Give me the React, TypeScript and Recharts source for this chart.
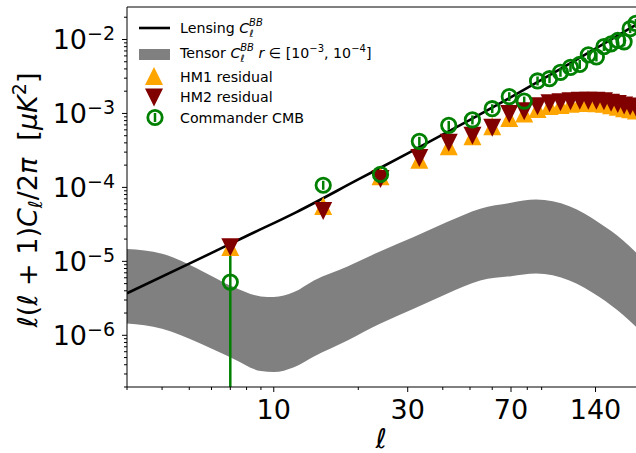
import React from 'react';
import {
  ComposedChart,
  XAxis,
  YAxis,
  Area,
  Line,
  Scatter,
  ErrorBar,
  ReferenceLine,
} from 'recharts';

const FONT = '"DejaVu Sans", "Liberation Sans", sans-serif';
const ORANGE = '#ffa500';
const MAROON = '#800000';
const GREEN = '#008000';
const GREY = '#808080';

// Band-power multipole centres for the residual and Commander spectra
const binCentres = [7, 15, 24, 33, 42, 51, 60, 69, 78, 87, 96, 105, 114, 123, 132, 141, 150, 159, 168, 177, 186, 195];

// D_ell^BB residuals of the two half-mission maps [uK^2]
const hm1Residual = [
  1.56e-5, 5.6e-5, 1.41e-4, 2.37e-4, 3.6e-4, 4.9e-4, 6.7e-4, 8.7e-4, 1.0e-3, 1.15e-3, 1.26e-3,
  1.3e-3, 1.35e-3, 1.38e-3, 1.38e-3, 1.37e-3, 1.35e-3, 1.29e-3, 1.23e-3, 1.18e-3, 1.14e-3, 1.1e-3,
];
const hm2Residual = [
  1.55e-5, 4.8e-5, 1.3e-4, 2.5e-4, 4.0e-4, 5.0e-4, 6.4e-4, 9.8e-4, 1.07e-3, 1.25e-3, 1.37e-3,
  1.42e-3, 1.46e-3, 1.49e-3, 1.49e-3, 1.49e-3, 1.46e-3, 1.4e-3, 1.34e-3, 1.28e-3, 1.24e-3, 1.2e-3,
];

// Commander CMB B-mode spectrum with its error bars
const commanderCmb = [
  5.25e-6, 1.07e-4, 1.5e-4, 4.2e-4, 6.9e-4, 8.2e-4, 1.16e-3, 1.69e-3, 1.47e-3, 2.75e-3, 2.95e-3,
  3.6e-3, 4.2e-3, 4.6e-3, 6.2e-3, 5.8e-3, 8.0e-3, 8.7e-3, 9.7e-3, 9.3e-3, 1.4e-2, 1.65e-2,
];
const commanderErrLow = [
  5.05e-6, 1.4e-5, 2.0e-5, 5.5e-5, 9.0e-5, 1.1e-4, 1.5e-4, 2.2e-4, 1.9e-4, 3.6e-4, 3.8e-4,
  4.7e-4, 5.5e-4, 6.0e-4, 8.0e-4, 7.5e-4, 1.0e-3, 1.1e-3, 1.3e-3, 1.2e-3, 1.8e-3, 2.1e-3,
];
const commanderErrHigh = [
  6.8e-6, 1.6e-5, 2.3e-5, 6.3e-5, 1.0e-4, 1.2e-4, 1.7e-4, 2.5e-4, 2.2e-4, 4.1e-4, 4.4e-4,
  5.4e-4, 6.3e-4, 6.9e-4, 9.3e-4, 8.7e-4, 1.2e-3, 1.3e-3, 1.5e-3, 1.4e-3, 2.1e-3, 2.5e-3,
];

// Lensing B-mode spectrum
const lensingL = [3, 5, 8, 12, 20, 30, 50, 70, 100, 140, 200];
const lensingDl = [3.7e-6, 9.3e-6, 2.2e-5, 4.6e-5, 1.28e-4, 2.88e-4, 8.2e-4, 1.66e-3, 3.58e-3, 7.5e-3, 1.67e-2];

// Primordial tensor B-modes for r = 1e-4 (low edge) and r = 1e-3 (high edge)
const tensorL = [3, 4, 5.5, 7.2, 9, 10, 11.8, 13.9, 18.3, 24, 31.5, 41.4, 54.4, 70, 86, 113, 144.5, 175.6, 200];
const tensorLow = [
  1.44e-6, 1.23e-6, 7.7e-7, 4.8e-7, 3.28e-7, 3.18e-7, 3.7e-7, 5.18e-7, 8.53e-7, 1.44e-6,
  2.29e-6, 3.66e-6, 5.53e-6, 6.3e-6, 6.83e-6, 5.53e-6, 3.29e-6, 1.88e-6, 1.2e-6,
];
const tensorHigh = [
  1.47e-5, 1.27e-5, 7.55e-6, 4.49e-6, 3.36e-6, 3.3e-6, 3.85e-6, 5.53e-6, 8.55e-6, 1.37e-5,
  2.13e-5, 3.4e-5, 5.16e-5, 6.2e-5, 6.84e-5, 5.55e-5, 3.3e-5, 1.92e-5, 1.2e-5,
];

// Axis ranges and ticks
const X_DOMAIN: [number, number] = [3, 200];
const Y_DOMAIN: [number, number] = [2e-7, 0.0275];
const xMajorTicks = [10, 30, 70, 140];
const xMinorTicks = [3, 4, 5, 6, 7, 8, 9, 20, 40, 50, 60, 80, 90, 200];
const yMajorTicks = [1e-6, 1e-5, 1e-4, 1e-3, 1e-2];
const yDecades = [-7, -6, -5, -4, -3, -2];
const mantissas = [2, 3, 4, 5, 6, 7, 8, 9];

const yMinorTicks: number[] = [];
yDecades.forEach((d) =>
  mantissas.forEach((m) => {
    const v = Number((m * Math.pow(10, d)).toPrecision(3));
    if (v >= Y_DOMAIN[0] && v <= Y_DOMAIN[1]) yMinorTicks.push(v);
  })
);
const xTicks = [...xMajorTicks, ...xMinorTicks].sort((a, b) => a - b);
const yTicks = [...yMajorTicks, ...yMinorTicks].sort((a, b) => a - b);

const hm1Data = binCentres.map((l, i) => ({ l, v: hm1Residual[i] }));
const hm2Data = binCentres.map((l, i) => ({ l, v: hm2Residual[i] }));
const commanderData = binCentres.map((l, i) => ({
  l,
  v: commanderCmb[i],
  err: [commanderErrLow[i], commanderErrHigh[i]],
}));
const lensingData = lensingL.map((l, i) => ({ l, v: lensingDl[i] }));
const tensorData = tensorL.map((l, i) => ({ l, band: [tensorLow[i], tensorHigh[i]] }));

function XTick(props: any) {
  const { x, y, payload } = props;
  const v = payload.value;
  const major = xMajorTicks.includes(v);
  return (
    <g>
      <line x1={x} x2={x} y1={y} y2={y + (major ? 5 : 3)} stroke="#000" strokeWidth={1} />
      {major && (
        <text x={x} y={y + 32} textAnchor="middle" fontSize={27} fontFamily={FONT} fill="#000">
          {v}
        </text>
      )}
    </g>
  );
}

function YTick(props: any) {
  const { x, y, payload } = props;
  const v = payload.value;
  const major = yMajorTicks.includes(v);
  const exp = Math.round(Math.log10(v));
  return (
    <g>
      <line x1={x - (major ? 5 : 3)} x2={x} y1={y} y2={y} stroke="#000" strokeWidth={1} />
      {major && (
        <text x={x - 12} y={y + 10} textAnchor="end" fontSize={27} fontFamily={FONT} fill="#000">
          10
          <tspan dy={-9.5} fontSize={19}>{`\u2212${-exp}`}</tspan>
        </text>
      )}
    </g>
  );
}

function YTitle(props: any) {
  const vb = props.viewBox || { x: 0, y: 7, width: 127, height: 380 };
  const cx = vb.x + 36.5;
  const cy = vb.y + vb.height / 2 + 3;
  const it = { fontStyle: 'italic' as const };
  return (
    <text
      x={cx}
      y={cy}
      transform={`rotate(-90, ${cx}, ${cy})`}
      textAnchor="middle"
      fontSize={27}
      fontFamily={FONT}
      fill="#000"
    >
      <tspan {...it}>ℓ</tspan>(<tspan {...it}>ℓ</tspan> + 1)<tspan {...it}>C</tspan>
      <tspan {...it} fontSize={19} dy={5}>ℓ</tspan>
      <tspan dy={-5}>/2</tspan>
      <tspan {...it}>π</tspan>
      {'\u00a0\u00a0'}[<tspan {...it}>μK</tspan>
      <tspan fontSize={19} dy={-11}>2</tspan>
      <tspan dy={11}>]</tspan>
    </text>
  );
}

function XTitle(props: any) {
  const vb = props.viewBox || { x: 127, y: 387, width: 512, height: 66 };
  return (
    <text
      x={vb.x + vb.width / 2 - 2}
      y={vb.y + 61}
      textAnchor="middle"
      fontSize={27}
      fontStyle="italic"
      fontFamily={FONT}
      fill="#000"
    >
      ℓ
    </text>
  );
}

const TriangleUp = (p: any) => (
  <polygon
    points={`${p.cx},${p.cy - 9} ${p.cx - 9},${p.cy + 9} ${p.cx + 9},${p.cy + 9}`}
    fill={ORANGE}
  />
);
const TriangleDown = (p: any) => (
  <polygon
    points={`${p.cx},${p.cy + 9} ${p.cx - 9},${p.cy - 9} ${p.cx + 9},${p.cy - 9}`}
    fill={MAROON}
  />
);
const OpenCircle = (p: any) => (
  <circle cx={p.cx} cy={p.cy} r={7.2} fill="none" stroke={GREEN} strokeWidth={2.8} />
);

function LegendBox() {
  const it = { fontStyle: 'italic' as const };
  const fs = 14.2;
  const small = 10;
  return (
    <svg
      width={636}
      height={453}
      style={{ position: 'absolute', left: 0, top: 0, pointerEvents: 'none' }}
      fontFamily={FONT}
    >
      <line x1={139} x2={170} y1={28} y2={28} stroke="#000" strokeWidth={2.6} />
      <text x={180} y={33} fontSize={fs} fill="#000">
        Lensing <tspan {...it}>C</tspan>
        <tspan {...it} fontSize={small} dy={3.5}>ℓ</tspan>
        <tspan {...it} fontSize={small} dx={-4.2} dy={-10.5}>BB</tspan>
      </text>

      <rect x={139} y={49} width={31} height={11} fill={GREY} />
      <text x={180} y={58} fontSize={fs} fill="#000">
        Tensor <tspan {...it}>C</tspan>
        <tspan {...it} fontSize={small} dy={3.5}>ℓ</tspan>
        <tspan {...it} fontSize={small} dx={-4.2} dy={-10.5}>BB</tspan>
        <tspan dy={7}> </tspan>
        <tspan {...it}>r</tspan> ∈ [10
        <tspan fontSize={small} dy={-6}>−3</tspan>
        <tspan dy={6}>,  10</tspan>
        <tspan fontSize={small} dy={-6}>−4</tspan>
        <tspan dy={6}>]</tspan>
      </text>

      <TriangleUp cx={154} cy={76} />
      <text x={180} y={81.7} fontSize={fs} fill="#000">HM1 residual</text>

      <TriangleDown cx={154} cy={97.5} />
      <text x={180} y={101.7} fontSize={fs} fill="#000">HM2 residual</text>

      <OpenCircle cx={155} cy={117.5} />
      <line x1={155} x2={155} y1={113} y2={122} stroke={GREEN} strokeWidth={2.5} />
      <text x={180} y={122.7} fontSize={fs} fill="#000">Commander CMB</text>
    </svg>
  );
}

export default function App() {
  return (
    <div
      style={{
        position: 'absolute',
        left: 0,
        top: 0,
        width: 636,
        height: 453,
        overflow: 'hidden',
        background: '#fff',
      }}
    >
      <ComposedChart width={642} height={453} margin={{ top: 7, right: 3, bottom: 0, left: 0 }}>
        <XAxis
          dataKey="l"
          type="number"
          scale="log"
          domain={X_DOMAIN}
          allowDataOverflow
          ticks={xTicks}
          interval={0}
          tick={<XTick />}
          tickLine={false}
          tickSize={0}
          tickMargin={0}
          height={66}
          axisLine={{ stroke: '#000', strokeWidth: 1 }}
          label={XTitle}
        />
        <YAxis
          type="number"
          scale="log"
          domain={Y_DOMAIN}
          allowDataOverflow
          ticks={yTicks}
          interval={0}
          tick={<YTick />}
          tickLine={false}
          tickSize={0}
          tickMargin={0}
          width={127}
          axisLine={{ stroke: '#000', strokeWidth: 1 }}
          label={YTitle}
        />
        <ReferenceLine y={Y_DOMAIN[1]} stroke="#000" strokeWidth={1} />
        <Area
          data={tensorData}
          dataKey="band"
          type="monotone"
          stroke="none"
          fill={GREY}
          fillOpacity={1}
          isAnimationActive={false}
        />
        <Line
          data={lensingData}
          dataKey="v"
          type="monotone"
          stroke="#000"
          strokeWidth={2.6}
          dot={false}
          isAnimationActive={false}
        />
        <Scatter data={hm1Data} dataKey="v" shape={TriangleUp} isAnimationActive={false} />
        <Scatter data={hm2Data} dataKey="v" shape={TriangleDown} isAnimationActive={false} />
        <Scatter data={commanderData} dataKey="v" shape={OpenCircle} isAnimationActive={false}>
          <ErrorBar dataKey="err" direction="y" width={0} stroke={GREEN} strokeWidth={2.5} />
        </Scatter>
      </ComposedChart>
      <LegendBox />
    </div>
  );
}
